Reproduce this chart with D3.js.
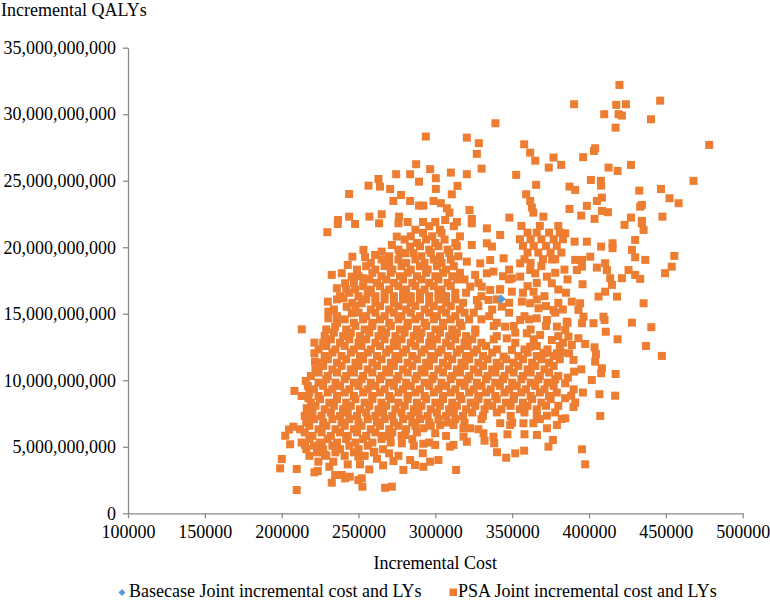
<!DOCTYPE html>
<html>
<head>
<meta charset="utf-8">
<script src="https://cdn.jsdelivr.net/npm/d3@7"></script>
<style>
  html, body { margin: 0; padding: 0; background: #ffffff; }
  svg { display: block; font-family: "Liberation Serif", "Times New Roman", Tinos, "DejaVu Serif", "Noto Serif", serif; }
  svg text { font-family: "Liberation Serif", "Times New Roman", Tinos, "DejaVu Serif", "Noto Serif", serif; fill: #000; }
</style>
</head>
<body>
<div id="chart"></div>
<script>
// ---------- DATA ----------
const xTicks = [100000, 150000, 200000, 250000, 300000, 350000, 400000, 450000, 500000];
const yTicks = [0, 5e9, 10e9, 15e9, 20e9, 25e9, 30e9, 35e9];

const xTitle = "Incremental Cost";
const yTitle = "Incremental QALYs";
const seriesNames = ["Basecase Joint incremental cost and LYs", "PSA Joint incremental cost and LYs"];

// Basecase point: [cost, QALYs]
const basecaseCost = [342800];
const basecaseQaly = [16.1e9];

// PSA points read individually: [cost in thousands, QALYs in billions]
const psaScattered = [
  [287.5,26.24],[274.5,25.49],[283.6,25.49],[289.4,24.93],[263,25.13],[256.5,24.63],[264,24.56],[270.6,24.38],[243.9,24.0],[277.7,23.93],[272.7,23.48],[283.6,23.48],[289.4,23.13],[243.9,22.3],[257.1,22.3],[265.1,22.48],[276.4,22.3],[236.7,22.05],
  [339.1,29.32],[293.8,28.32],[320.5,28.24],[328.3,27.82],[327,27.02],[357.8,27.74],[361.7,27.11],[365,26.51],[376.9,26.74],[381.9,26.19],[373.8,25.99],[330.1,25.91],[296.6,25.87],[310.1,25.61],[320.5,25.49],[352.6,25.44],[300.3,25.19],[314.4,24.61],[365.6,24.69],[300.3,24.38],[310.7,23.98],[359.1,23.98],[361.7,23.48],[298.8,23.48],[303.6,23.31],[307.5,22.93],[292.2,23.13],[362.8,22.98],[309.2,22.6],[363.8,22.6],[322.2,22.8],[370.3,22.3],[348.2,22.23],[323.7,22.13],[306.4,22.05],
  [419.8,32.2],[390.3,30.75],[417.7,30.7],[424,30.75],[446.3,31.02],[409.9,30.0],[419.2,30.0],[421.4,29.9],[440.3,29.62],[417.3,28.99],[478.2,27.69],[404,27.44],[403.2,27.24],[396.2,26.77],[412.7,25.99],[418.6,25.74],[427.3,26.19],[468,24.99],[401.2,25.06],[407.7,24.99],[407.9,24.63],[387.3,24.56],[391,24.31],[432.7,24.26],[446.8,24.38],[452.4,23.68],[458.3,23.31],[408.4,23.73],[405.1,23.48],[434.4,23.18],[433.3,23.05],[398.6,23.11],[387.3,22.88],[408.4,22.73],[412.3,22.63],[394.9,22.38],[403.6,22.13],[427.3,22.23],[434.4,21.98],[447.8,22.3],
  [384.5,21.05],[390.6,20.42],[398.6,20.42],[423.1,21.68],[434.4,21.8],[435.5,21.3],[430,20.55],[407.9,20.05],[415.3,20.3],[415.3,19.93],[427.9,19.8],[430,19.25],[436.6,19.05],[455.5,19.35],[453.8,18.54],[449.5,18.05],[391,19.05],[395.4,19.05],[400.8,19.29],[392.1,18.29],[395.4,18.54],[405.1,18.47],[410.5,18.8],[411.6,18.29],[425.7,18.29],[430,17.92],[433.3,17.62],[421.4,17.67],[413.8,17.67],[414.9,17.17],[395.8,17.22],[410.5,16.66],[406.2,16.29],[418.2,16.29],[435.5,15.79],[388.8,15.91],[394.2,15.79],[393.1,15.29],[396.4,14.78],[395.4,14.29],[402.9,14.29],[409.4,14.78],[410.1,14.53],[385.5,14.41],[427.9,14.33],[440.5,13.99],[410.9,13.65],[418.6,13.08],[437.1,12.58],[447.4,11.83],[386.6,13.28],[393.1,13.16],[388.8,12.65],[397.5,12.73],[403.6,12.48],[387,12.03],[404.5,11.98],[389.9,11.53],[404,11.4],[384.5,13.78],
  [390.3,10.65],[386.2,10.2],[384.5,9.77],[401.8,10.02],[407.9,10.53],[408.4,10.9],[417.3,10.47],[388.4,8.84],[384.5,8.65],[406.8,8.95],[417,8.84],[389.9,7.99],[407.3,7.32],[384.5,7.14],[395.4,4.81],[397.5,3.68],
  [313.5,3.26],[296.6,3.88],[302,4.01],[292.2,3.5],[291.8,4.51],[299.9,5.14],[292.2,5.23],[309.6,5.01],[320.5,5.38],[332,5.46],[338.3,5.26],[340.1,4.59],[346.1,4.18],[352,4.51],[357.8,4.71],[346.9,5.94],[358,5.94],[366.1,5.89],[373.6,5.01],[376.5,5.51],[372.6,6.39],[379.1,6.64],[372.6,7.34],[382.3,7.09],[363.8,6.77],[357.3,6.77],[348.7,6.64],[342.2,6.77],[337.8,5.76],[331.3,6.02],[318.3,5.76],[311.8,5.14],[292.2,6.39],[299.9,6.02],[303.1,6.64],[318.3,6.39],[311.8,6.64],[322.6,6.39],
  [209.8,1.75],[199,3.38],[209.8,3.33],[200.1,4.08],[202.3,5.83],[205.5,5.19],[207.6,6.51],[208.3,9.2],[215.7,9.95],[221.3,3.08],[223.5,3.18],[232.6,2.3],[243,3.68],[239.1,2.88],[244.3,2.75],[249.9,2.5],[252.5,2.0],[267.3,1.92],[271.7,2.0],[249.9,4.26],[251,3.68],[269.9,4.51],[272.7,3.93],[279.2,3.26],[283.6,4.01],[286.8,3.63],[260.3,4.63],[223.9,3.88],[228.2,4.38],[233.6,3.88],[234.8,2.88],[241.3,2.63],[252.1,2.63],[215.2,5.14],[226.1,5.01],[204.8,6.3],[216.3,7.9],[216.3,7.26],[217.4,8.65],[278.2,5.26],[280.3,5.89],[270.6,5.76],
  [231,3.5],[257,3.3],[266,3.6],[262,4.1],
  [229.7,21.13],[236.5,21.75],[247.8,21.75],[263.4,21.8],[276,21.8],[274.9,20.8],[271.7,20.17],[283.6,20.05],[280.3,19.55],[285.7,19.55],[253.2,19.8],[246,19.29],[260.8,19.42],[265.1,19.67],[254.3,19.25],[243,18.67],[232.6,17.92],[239.1,18.05],[245.6,17.79],[253.2,17.67],[235.9,16.92],[247.8,16.84],[241.3,17.29],[230,15.91],[240.2,16.17],[230.4,15.16],[230.4,14.66],[213.1,13.83],[221.3,12.83],[221.3,12.03],[221.7,11.4],[234.8,14.03],[242.3,15.53],[245.6,15.04],[252.1,15.79],
  [323.7,21.8],[333.5,21.42],[342.2,20.92],[333.5,20.3],[323.7,20.17],[336.8,20.05],[344.4,19.17],[320.5,18.92],[329.2,18.79],[335.7,19.04],[325.9,17.92],[333.5,18.04],[337.8,18.17],[322.7,17.04],[330.2,17.04],[335.7,16.79],[327,16.04],[334.6,16.04],[349.8,17.66],[342.2,16.84],[349.8,16.66],[355.2,17.79],[355.2,18.79],[343.3,15.53],[345.4,14.03],[346.5,13.15],[349.8,12.28],[344.4,11.78],
  [361.7,18.29],[365,18.04],[372.6,17.79],[375.8,17.29],[363.9,16.66],[356.3,15.91],[361.7,15.79],[367.1,15.41],[376.9,15.28],[355.2,14.53],[366,14.66],[372.6,14.53],[379.1,14.03],[359.5,13.53],[368.2,13.4],[375.8,13.03],[361.7,12.53],[370.4,12.03],[379.1,12.03]
];

// PSA points in the dense core, read strip by strip: [QALYs in billions, [costs in thousands]]
const psaCoreRows = [
  [4.32, [218,229,241,254,276]],
  [4.58, [223,235,247,260]],
  [4.82, [216,227,238,250,266]],
  [5.08, [221,233,244,256,286]],
  [5.32, [213,225,236,248,259,271,296]],
  [5.58, [218,230,242,253,265,285]],
  [5.82, [220,232,243,255,266,278,307]],
  [6.08, [215,226,238,249,261,272,288]],
  [6.32, [212,224,235,247,258,270,281,328]],
  [6.58, [218,229,241,252,264,276,287,297]],
  [6.82, [216,227,239,250,262,273,285,296,308,319,350]],
  [7.08, [221,233,244,256,267,279,290,302,313,330,368]],
  [7.32, [215,226,238,249,261,272,284,295,307,318,331,349,366]],
  [7.58, [220,232,243,255,266,278,289,301,312,324,340,358,378]],
  [7.82, [217,228,240,251,263,274,286,297,309,320,332,343,355,366]],
  [8.08, [222,234,245,257,268,280,291,303,314,326,337,349,360,372,380]],
  [8.32, [219,231,242,254,265,276,288,300,311,323,334,346,357,369,391]],
  [8.58, [225,236,248,259,271,282,294,305,317,328,340,351,363,375]],
  [8.82, [213,224,236,247,259,270,282,293,305,316,328,339,351,362,374]],
  [9.08, [218,230,241,253,264,276,287,299,310,322,333,345,356,368,379,396]],
  [9.32, [221,233,244,256,267,279,290,302,313,325,336,348,359,371,390]],
  [9.58, [217,227,238,250,261,273,284,296,307,319,330,342,353,365,377]],
  [9.82, [224,235,247,258,270,281,293,304,316,327,339,350,362,373]],
  [10.08, [229,241,252,264,275,287,298,310,321,333,344,356,367,378]],
  [10.32, [219,230,242,253,265,276,288,299,311,322,334,345,357,368,380]],
  [10.58, [224,236,247,259,270,282,293,305,316,328,339,351,362,374]],
  [10.82, [222,233,245,256,268,279,291,302,314,325,337,348,360,371,395]],
  [11.08, [227,239,250,262,273,285,296,308,319,331,342,354,365,377]],
  [11.32, [225,236,248,259,271,282,294,305,317,328,340,351,363,374]],
  [11.58, [230,242,253,265,276,288,299,311,322,334,346,357,369,381]],
  [11.82, [228,239,251,262,274,285,297,308,320,331,354,366,377]],
  [12.08, [233,245,256,268,279,291,302,314,325,337,360,372,382]],
  [12.32, [224,235,247,258,270,281,293,304,316,327,340,358,373]],
  [12.58, [229,241,252,264,275,287,298,310,321,333,366,381]],
  [12.82, [227,238,250,261,273,284,296,307,319,330,352,383]],
  [13.08, [232,244,255,267,278,290,301,313,324,338,364]],
  [13.32, [228,240,251,263,274,286,297,309,320,340,380]],
  [13.58, [234,245,257,268,280,291,303,314,326,352]],
  [13.82, [229,242,254,265,277,288,300,311,326,362]],
  [14.08, [248,259,271,282,294,305,317,338,351,372]],
  [14.32, [236,247,259,270,282,293,305,316,340,386]],
  [14.58, [241,253,264,276,287,299,310,322,330,361]],
  [14.82, [236,255,267,278,290,301,313,335,358]],
  [15.08, [250,261,273,284,296,307,319,325,348,378]],
  [15.32, [234,258,270,281,293,304,316,337,383]],
  [15.58, [248,264,276,287,299,310,328,372]],
  [15.82, [246,261,273,284,296,307,318,348,380]],
  [16.08, [236,255,267,279,290,302,313,340,366]],
  [16.32, [238,250,261,273,284,296,307,330,371]],
  [16.58, [244,256,267,279,290,302,313,320,357,385]],
  [16.82, [242,258,270,281,293,304,342,380]],
  [17.08, [253,264,276,287,299,310,360]],
  [17.32, [247,262,273,285,296,308,328,366]],
  [17.58, [257,268,279,291,302,314,319,348,386]],
  [17.82, [250,265,277,288,300,311,344]],
  [18.08, [259,271,282,294,305,316,378]],
  [18.32, [249,261,272,284,295,307,348,384]],
  [18.58, [255,267,278,290,301,312,369]],
  [18.82, [258,270,281,293,304,362]],
  [19.08, [265,276,287,299,310,376]],
  [19.1, [358,370,378]],
  [19.32, [270,291,303,315]],
  [19.58, [277,297,309]],
  [19.6, [360,367,375,382]],
  [19.82, [276,296,308]],
  [20.08, [290,302,314]],
  [20.1, [357,364,372,379]],
  [20.32, [288,300,313]],
  [20.58, [280,294,306]],
  [20.6, [355,362,369,377,383]],
  [20.82, [284,298,316]],
  [21.08, [292,304]],
  [21.1, [360,366,374,381]],
  [21.32, [287,303]],
  [21.58, [296,312]],
  [21.6, [356,368,380]],
  [21.9, [282,292,300,314]]
];

// ---------- BUILD ----------
const psa = psaScattered.map(([c, q]) => ({ cost: c * 1000, qaly: q * 1e9 }));
psaCoreRows.forEach(([q, costs]) => costs.forEach(c => psa.push({ cost: c * 1000, qaly: q * 1e9 })));
const basecase = basecaseCost.map((c, i) => ({ cost: c, qaly: basecaseQaly[i] }));

const W = 770, H = 602;
const orange = "#ED7D31", blue = "#5B9BD5", axisColor = "#898989";
const FONT = "'Liberation Serif', 'Times New Roman', Tinos, 'DejaVu Serif', 'Noto Serif', serif";

const svg = d3.select("#chart").append("svg").attr("width", W).attr("height", H);

const x = d3.scaleLinear().domain([100000, 500000]).range([128, 742.7]);
const y = d3.scaleLinear().domain([0, 35e9]).range([513.3, 47.7]);

// Axes
const gx = svg.append("g").attr("transform", `translate(0,${y(0)})`)
  .call(d3.axisBottom(x).tickValues(xTicks).tickFormat(d3.format("d")).tickSize(5).tickSizeOuter(0).tickPadding(7));
const gy = svg.append("g").attr("transform", `translate(${x(100000)},0)`)
  .call(d3.axisLeft(y).tickValues(yTicks).tickFormat(d3.format(",")).tickSize(5).tickSizeOuter(0).tickPadding(7));

[gx, gy].forEach(g => {
  g.attr("font-family", null).attr("font-size", null);
  g.select(".domain").attr("stroke", axisColor).attr("stroke-width", 1.3);
  g.selectAll(".tick line").attr("stroke", axisColor).attr("stroke-width", 1.3);
  g.selectAll(".tick text").style("font-family", FONT).style("font-size", "18px").attr("fill", "#000");
});

// Points
const ms = 8;
svg.append("g").selectAll("rect").data(psa).join("rect")
  .attr("x", d => x(d.cost) - ms / 2)
  .attr("y", d => y(d.qaly) - ms / 2)
  .attr("width", ms).attr("height", ms)
  .attr("fill", orange);

const diamond = d3.symbol(d3.symbolSquare, 42);
svg.append("g").selectAll("path").data(basecase).join("path")
  .attr("d", diamond)
  .attr("transform", d => `translate(${x(d.cost)},${y(d.qaly)}) rotate(45)`)
  .attr("fill", blue);

// Titles
const addText = (g, tx, ty, str, anchor) => g.append("text").attr("x", tx).attr("y", ty)
  .attr("text-anchor", anchor || "start").style("font-family", FONT).style("font-size", "18px").text(str);
addText(svg, 1, 16, yTitle);
addText(svg, (x.range()[0] + x.range()[1]) / 2, 569, xTitle, "middle");

// Legend
const lg = svg.append("g");
lg.append("path").attr("d", d3.symbol(d3.symbolSquare, 26))
  .attr("transform", "translate(122,592.5) rotate(45)").attr("fill", blue);
addText(lg, 129, 597, seriesNames[0]);
lg.append("rect").attr("x", 449.5).attr("y", 588.5).attr("width", 7.5).attr("height", 7.5).attr("fill", orange);
addText(lg, 458, 597, seriesNames[1]);
</script>
</body>
</html>
